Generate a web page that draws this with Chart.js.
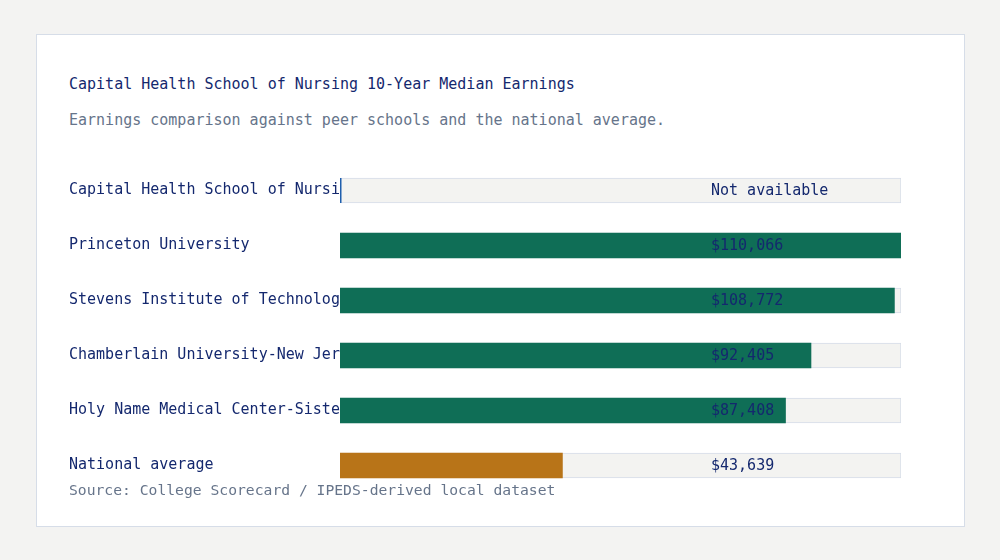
<!DOCTYPE html>
<html>
<head>
<meta charset="utf-8">
<script src="https://cdn.jsdelivr.net/npm/chart.js@4/dist/chart.umd.min.js"></script>
<style>
  body { margin: 0; background: #f3f3f2; width: 1000px; height: 560px; position: relative; overflow: hidden;
         font-family: "DejaVu Sans Mono", monospace; }
  .card { position: absolute; left: 36px; top: 34px; width: 929px; height: 493px; box-sizing: border-box;
          background: #fff; border: 1px solid #d6dde8; }
  .txt { position: absolute; left: 69px; white-space: nowrap; line-height: 20px; }
  #title { top: 74px; font-size: 15px; color: #14286e; }
  #subtitle { top: 110px; font-size: 15px; color: #66748a; }
  #source { top: 480px; font-size: 14.7px; color: #66748a; }
  #wrap { position: absolute; left: 69px; top: 154px; width: 832px; height: 348px; }
</style>
</head>
<body>
<div class="card"></div>
<div class="txt" id="title">Capital Health School of Nursing 10-Year Median Earnings</div>
<div class="txt" id="subtitle">Earnings comparison against peer schools and the national average.</div>
<div id="wrap"><canvas id="chart"></canvas></div>
<div class="txt" id="source">Source: College Scorecard / IPEDS-derived local dataset</div>
<script>
const schools = [
  "Capital Health School of Nursing",
  "Princeton University",
  "Stevens Institute of Technology",
  "Chamberlain University-New Jersey",
  "Holy Name Medical Center-Sisters of Charity School of Nursing",
  "National average",
];
const earnings = [null, 110066, 108772, 92405, 87408, 43639];
const isNational = [false, false, false, false, false, true];

const green = "#0f6e56";
const orange = "#b87418";
const navy = "#14286e";
const maxValue = Math.max(...earnings.filter(v => v != null));

const fmt = v => "$" + v.toLocaleString("en-US");

const labelPlugin = {
  id: "valueLabels",
  afterDatasetsDraw(chart) {
    const ctx = chart.ctx;
    const area = chart.chartArea;
    const meta = chart.getDatasetMeta(0);
    ctx.save();
    ctx.font = "15px 'DejaVu Sans Mono', monospace";
    ctx.fillStyle = navy;
    ctx.textBaseline = "middle";
    ctx.textAlign = "left";
    meta.data.forEach((bar, i) => {
      const y = bar.y;
      const v = earnings[i];
      if (v == null) {
        ctx.fillStyle = "#1f5fae";
        ctx.fillRect(area.left, y - 12.5, 1.5, 25);
        ctx.fillStyle = navy;
      }
      ctx.fillText(v == null ? "Not available" : fmt(v), area.right - 190, y + 1);
    });
    ctx.restore();
  },
};

new Chart(document.getElementById("chart"), {
  type: "bar",
  data: {
    labels: schools,
    datasets: [
      {
        data: earnings,
        backgroundColor: isNational.map(n => (n ? orange : green)),
        borderWidth: 0,
        barThickness: 25,
        grouped: false,
      },
      {
        data: earnings.map(() => maxValue),
        backgroundColor: "#f3f3f1",
        borderColor: "#d6dde8",
        borderWidth: 1,
        borderSkipped: false,
        barThickness: 25,
        grouped: false,
      },
    ],
  },
  options: {
    indexAxis: "y",
    responsive: true,
    maintainAspectRatio: false,
    animation: false,
    layout: { padding: 0, autoPadding: false },
    plugins: { legend: { display: false }, tooltip: { enabled: false } },
    scales: {
      x: { display: false, min: 0, max: maxValue },
      y: {
        grid: { display: false },
        border: { display: false },
        afterFit: s => { s.width = 271; },
        ticks: {
          crossAlign: "far",
          padding: 0,
          color: navy,
          font: { family: "'DejaVu Sans Mono', monospace", size: 15 },
          callback: function (value) {
            return this.getLabelForValue(value).slice(0, 30);
          },
        },
      },
    },
  },
  plugins: [labelPlugin],
});
</script>
</body>
</html>
